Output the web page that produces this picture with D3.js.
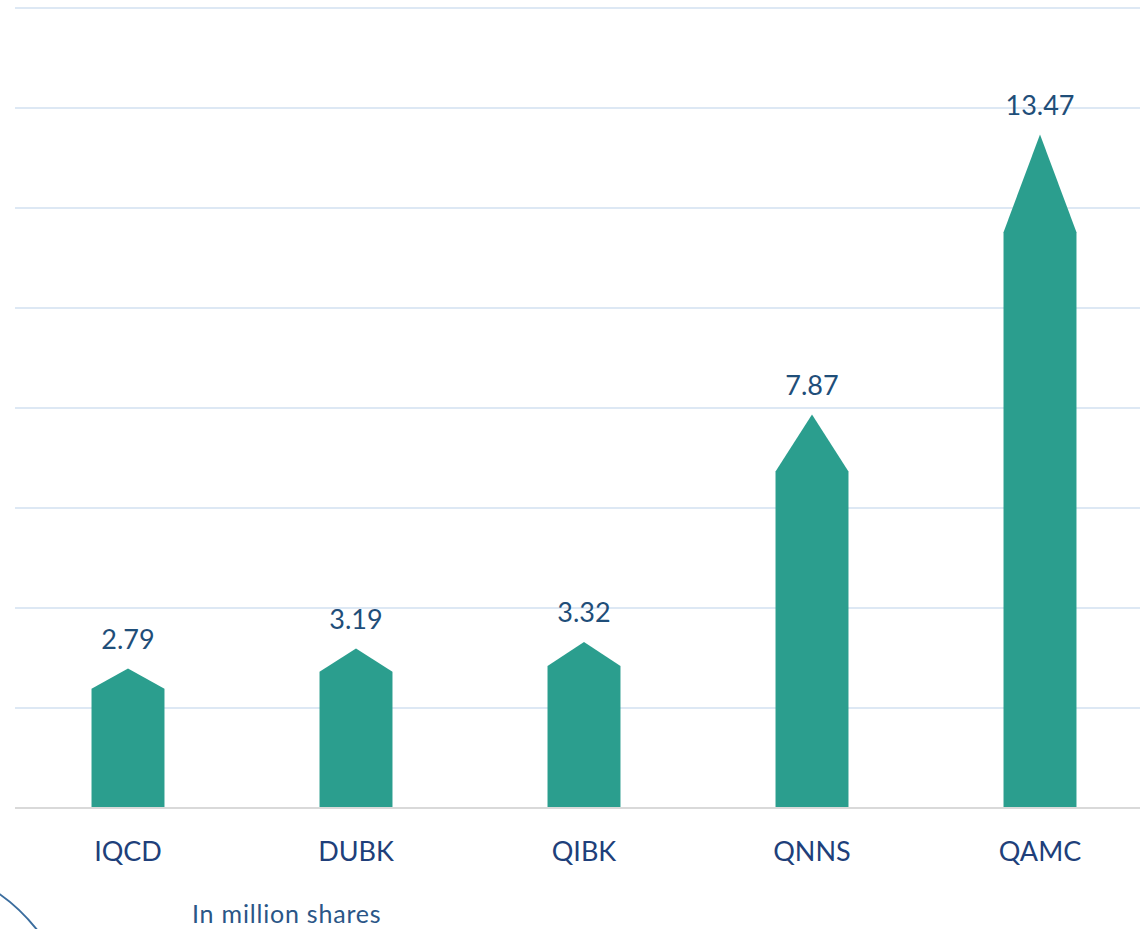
<!DOCTYPE html>
<html>
<head>
<meta charset="utf-8">
<script src="https://cdn.jsdelivr.net/npm/d3@7"></script>
<style>
  html, body { margin: 0; padding: 0; background: #fff; overflow: hidden; }
  svg { display: block; }
</style>
</head>
<body>
<div id="chart"></div>
<script>
// data
const tickers = ["IQCD", "DUBK", "QIBK", "QNNS", "QAMC"];
const volumes = [2.79, 3.19, 3.32, 7.87, 13.47];
const gridValues = [0, 2, 4, 6, 8, 10, 12, 14, 16];
const unitNote = "In million shares";

const width = 1140, height = 929;

const svg = d3.select("#chart")
    .append("svg")
        .attr("width", width)
        .attr("height", height);

const x = d3.scaleBand()
    .domain(tickers)
    .range([14, 1154])
    .paddingInner(0.68)
    .paddingOuter(0.34);

const y = d3.scaleLinear()
    .domain([0, 16])
    .range([808, 8]);

// gridlines
svg.append("g")
    .selectAll("line")
    .data(gridValues.filter(d => d > 0))
    .enter().append("line")
        .attr("x1", 15)
        .attr("x2", width)
        .attr("y1", d => y(d))
        .attr("y2", d => y(d))
        .attr("stroke", "#dde8f4")
        .attr("stroke-width", 2);

// arrow-shaped bars: body up to ~85.5% of the value, then a point
const shoulder = 0.855;
const arrow = (d, i) => {
    const x0 = x(tickers[i]), x1 = x0 + x.bandwidth(), xm = x0 + x.bandwidth() / 2;
    return `M${x0},${y(0)} L${x0},${y(d * shoulder)} L${xm},${y(d)} L${x1},${y(d * shoulder)} L${x1},${y(0)} Z`;
};

svg.append("g")
    .selectAll("path")
    .data(volumes)
    .enter().append("path")
        .attr("d", arrow)
        .attr("fill", "#2b9e8e");

// baseline
svg.append("line")
    .attr("x1", 15)
    .attr("x2", width)
    .attr("y1", y(0))
    .attr("y2", y(0))
    .attr("stroke", "#d9d9d9")
    .attr("stroke-width", 2);

// value labels
svg.append("g")
    .selectAll("text")
    .data(volumes)
    .enter().append("text")
        .attr("x", (d, i) => x(tickers[i]) + x.bandwidth() / 2)
        .attr("y", d => y(d) - 20)
        .attr("text-anchor", "middle")
        .style("font-family", "Lato, sans-serif")
        .style("font-size", "27px")
        .style("fill", "#1f4e79")
        .text(d => d.toFixed(2));

// category labels
svg.append("g")
    .selectAll("text")
    .data(tickers)
    .enter().append("text")
        .attr("x", d => x(d) + x.bandwidth() / 2)
        .attr("y", 861)
        .attr("text-anchor", "middle")
        .style("font-family", "Lato, sans-serif")
        .style("font-size", "27px")
        .style("fill", "#203f7a")
        .text(d => d);

// unit note
svg.append("text")
    .attr("x", 192)
    .attr("y", 923)
    .style("font-family", "Lato, sans-serif")
    .style("font-size", "25px")
    .style("letter-spacing", "0.8px")
    .style("fill", "#2a5687")
    .text(unitNote);

// decorative arc in the corner
svg.append("path")
    .attr("d", "M-2,893 Q20,908 38,931")
    .attr("fill", "none")
    .attr("stroke", "#3b6d9e")
    .attr("stroke-width", 2);
</script>
</body>
</html>
